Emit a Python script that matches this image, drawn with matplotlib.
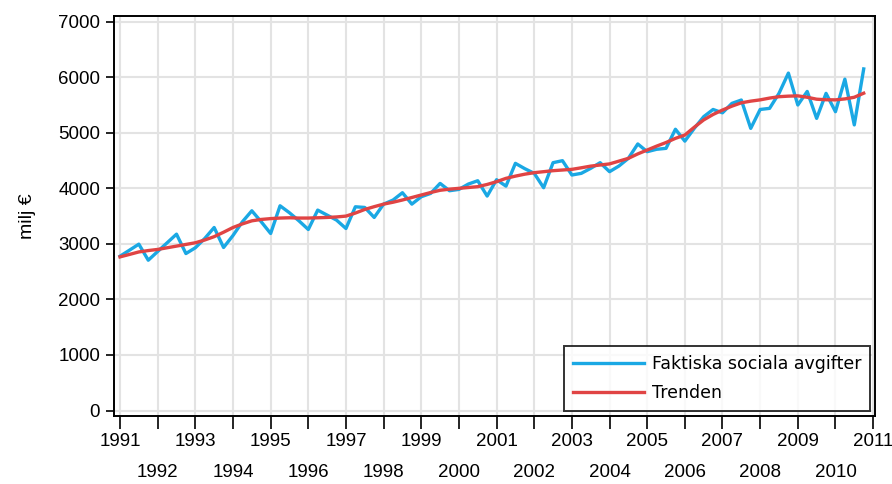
import matplotlib
matplotlib.use("Agg")
import matplotlib.pyplot as plt
import numpy as np

# Quarterly data 1991Q1 .. 2010Q4
start_year = 1991
actual = [2778, 2886, 2995, 2706, 2863, 3019, 3175, 2826, 2930, 3097,
          3295, 2935, 3151, 3398, 3596, 3398, 3187, 3686, 3560, 3416,
          3259, 3608, 3518, 3428, 3277, 3668, 3656, 3476, 3716, 3789,
          3921, 3716, 3849, 3909, 4089, 3957, 3981, 4077, 4137, 3861,
          4155, 4040, 4450, 4354, 4270, 4011, 4462, 4498, 4240, 4270,
          4360, 4462, 4300, 4402, 4540, 4799, 4660, 4703, 4720, 5064,
          4850, 5080, 5290, 5420, 5360, 5530, 5590, 5080, 5420, 5440,
          5710, 6075, 5500, 5745, 5260, 5710, 5380, 5966, 5142, 6150]
trend = [2766, 2810, 2855, 2880, 2900, 2930, 2960, 2990, 3020, 3070,
         3130, 3210, 3295, 3360, 3415, 3440, 3455, 3465, 3470, 3465,
         3465, 3470, 3476, 3485, 3500, 3555, 3620, 3670, 3716, 3750,
         3790, 3835, 3880, 3925, 3965, 3985, 4000, 4015, 4030, 4070,
         4120, 4180, 4220, 4255, 4282, 4300, 4318, 4330, 4342, 4370,
         4400, 4420, 4440, 4490, 4540, 4620, 4690, 4760, 4825, 4900,
         4960, 5100, 5232, 5330, 5410, 5480, 5540, 5570, 5593, 5625,
         5650, 5660, 5665, 5640, 5605, 5595, 5593, 5610, 5640, 5713]
years_row1 = [1991, 1993, 1995, 1997, 1999, 2001, 2003, 2005, 2007, 2009, 2011]
years_row2 = [1992, 1994, 1996, 1998, 2000, 2002, 2004, 2006, 2008, 2010]
yticks = [0, 1000, 2000, 3000, 4000, 5000, 6000, 7000]
label_actual = "Faktiska sociala avgifter"
label_trend = "Trenden"
ylabel = "milj €"

x = start_year + np.arange(len(actual)) / 4.0

plt.rcParams['font.family'] = ['Liberation Sans', 'DejaVu Sans']

fig = plt.figure(figsize=(8.92, 4.84), dpi=100)
ax = fig.add_axes([114/892, 1-416/484, (875-114)/892, (416-16)/484])

ax.plot(x, actual, color='#1AA8E4', lw=2.4, label=label_actual, zorder=3)
ax.plot(x, trend, color='#E04444', lw=2.4, label=label_trend, zorder=4)

ax.set_xlim(1990.84, 2011.05)
ax.set_ylim(-99, 7103)
ax.set_xticks(years_row1)
ax.set_xticklabels([str(y) for y in years_row1])
ax.set_xticks(years_row2, minor=True)
ax.set_xticklabels([str(y) for y in years_row2], minor=True)
ax.set_yticks(yticks)
ax.set_yticklabels([str(v) for v in yticks])
ax.tick_params(axis='x', which='major', direction='out', length=9, width=1.2,
               pad=3, labelsize=13.5, colors='black')
ax.tick_params(axis='x', which='minor', direction='out', length=9, width=1.2,
               pad=25.5, labelsize=13.5, colors='black')
ax.tick_params(axis='y', direction='out', length=6, width=1.2, pad=4,
               labelsize=13.5, colors='black')
ax.grid(True, which='both', axis='x', color='#E3E3E3', lw=1.5, zorder=0)
ax.grid(True, which='major', axis='y', color='#E3E3E3', lw=1.5, zorder=0)
ax.set_axisbelow(True)
for s in ax.spines.values():
    s.set_linewidth(1.4)
    s.set_color('black')
ax.set_ylabel(ylabel, fontsize=14, labelpad=16)

leg = ax.legend(loc='lower right', frameon=True, fancybox=False,
                edgecolor='black', prop={'family': 'DejaVu Sans', 'size': 12.5},
                handlelength=4.1, borderaxespad=0.3, labelspacing=0.65,
                borderpad=0.5, handletextpad=0.45)
leg.get_frame().set_linewidth(1.4)

fig.savefig("out.png", dpi=100)
